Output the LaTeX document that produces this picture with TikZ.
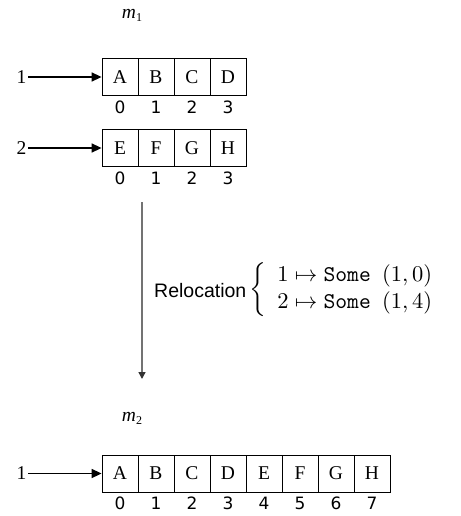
\documentclass[tikz,border=0pt]{standalone}
\usepackage{fontspec}
\usepackage{graphicx}
\setmainfont{Liberation Serif}
\newfontfamily\idxfont{DejaVu Sans}
\newfontfamily\relfont{Liberation Sans}
\usetikzlibrary{arrows.meta}
\newcommand{\mlabel}[1]{\textit{m}\raisebox{-0.35ex}{\fontsize{12}{12}\selectfont #1}}
\begin{document}
\begin{tikzpicture}[x=1pt,y=-1pt,
  cell/.style={draw, line width=0.8pt, minimum width=36pt, minimum height=37pt, inner sep=0pt, font=\fontsize{19.5}{19.5}\selectfont},
  idx/.style={inner sep=0pt, font=\idxfont\fontsize{17}{17}\selectfont},
  lbl/.style={inner sep=1.5pt, font=\fontsize{19.5}{19.5}\selectfont},
  ptr/.style={-{Triangle[length=10pt,width=9pt]}, line width=1.6pt},
  reloc/.style={draw=black!55, line width=1.4pt, -{Triangle[length=7pt,width=7pt,color=black!80]}}]
\useasboundingbox (0,0) rectangle (460,516);
% m1
\node[lbl] (m1) at (132,15) {\mlabel{1}};
% row 1
\foreach \l [count=\i from 0] in {A,B,C,D} {
  \node[cell] (a\i) at (120+36*\i,77) {\l};
  \node[idx] (ai\i) at (120+36*\i,107) {\i};
}
\node[lbl, anchor=east] (p1) at (28,77) {1};
\draw[ptr] (p1.east) -- (a0.west);
% row 2
\foreach \l [count=\i from 0] in {E,F,G,H} {
  \node[cell] (b\i) at (120+36*\i,148) {\l};
  \node[idx] (bi\i) at (120+36*\i,178) {\i};
}
\node[lbl, anchor=east] (p2) at (28,148) {2};
\draw[ptr] (p2.east) -- (b0.west);
% relocation arrow
\coordinate (vs) at (142,202);
\coordinate (ve) at (142,379);
\draw[reloc] (vs) -- (ve);
\node[anchor=west, inner sep=0pt, font=\relfont\fontsize{19.5}{19.5}\selectfont] (rel) at (154,291) {Relocation};
\node[anchor=west, inner sep=0pt] (map) at (249,290)
  {\scalebox{2.25}{$\left\{\begin{array}{l}1\mapsto\mathtt{Some}\ \ (1,0)\\ 2\mapsto\mathtt{Some}\ \ (1,4)\end{array}\right.$}};
% m2
\node[lbl] (m2) at (132,418) {\mlabel{2}};
% bottom row
\foreach \l [count=\i from 0] in {A,B,C,D,E,F,G,H} {
  \node[cell] (c\i) at (120+36*\i,473.5) {\l};
  \node[idx] (ci\i) at (120+36*\i,503) {\i};
}
\node[lbl, anchor=east] (p3) at (28,473.5) {1};
\draw[ptr] (p3.east) -- (c0.west);
\end{tikzpicture}
\end{document}
